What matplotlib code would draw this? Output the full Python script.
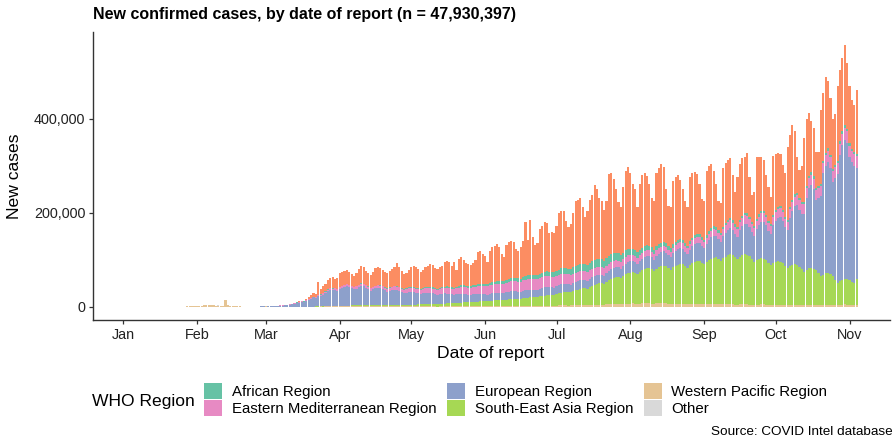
import numpy as np
import pandas as pd
import matplotlib
matplotlib.use("Agg")
import matplotlib.pyplot as plt
import matplotlib.dates as mdates
from matplotlib.patches import Patch
from matplotlib.ticker import FuncFormatter

plt.rcParams["font.family"] = ["Liberation Sans", "DejaVu Sans"]

# Daily new cases by WHO region, thousands.
# First day is Mon 2020-01-20, one line per week (Mon..Sun), last day 2020-11-04.
start_date = "2020-01-20"

western_pacific = [
    0.3, 0.1, 0.2, 0.3, 0.5, 0.7, 0.7,
    0.8, 1.3, 1.5, 1.7, 2.0, 2.1, 2.6,
    3.0, 3.2, 3.9, 3.7, 3.2, 3.4, 2.7,
    3.0, 2.5, 2.0, 15.1, 5.1, 2.6, 2.0,
    2.0, 1.9, 1.8, 0.5, 0.9, 0.7, 0.7,
    0.4, 0.6, 0.5, 0.6, 0.8, 0.9, 1.1,
    0.7, 0.7, 0.6, 0.5, 0.5, 0.4, 0.4,
    0.3, 0.3, 0.2, 0.3, 0.2, 0.3, 0.3,
    0.4, 0.3, 0.4, 0.5, 0.6, 0.6, 0.8,
    0.9, 1.0, 0.9, 1.2, 1.3, 1.3, 1.2,
    1.3, 1.4, 1.6, 1.5, 1.6, 1.7, 1.6,
    1.8, 1.8, 1.9, 2.0, 2.2, 2.1, 2.0,
    2.2, 2.0, 2.1, 2.3, 2.5, 2.3, 2.0,
    1.9, 1.7, 1.8, 1.6, 1.7, 1.5, 1.6,
    1.4, 1.3, 1.3, 1.2, 1.3, 1.2, 1.1,
    1.1, 1.0, 1.1, 1.0, 1.1, 1.0, 1.1,
    1.0, 0.9, 1.0, 1.1, 1.0, 1.2, 1.1,
    1.0, 1.1, 1.2, 1.1, 1.2, 1.1, 1.3,
    1.2, 1.3, 1.4, 1.3, 1.5, 1.6, 1.5,
    1.4, 1.5, 1.6, 1.7, 1.6, 1.8, 1.7,
    1.6, 1.8, 1.9, 2.0, 1.9, 2.1, 2.0,
    1.9, 2.1, 2.2, 2.3, 2.4, 2.2, 2.3,
    2.2, 2.4, 2.6, 2.5, 2.7, 2.8, 2.6,
    2.5, 2.8, 3.0, 3.1, 3.2, 3.3, 3.1,
    3.0, 3.3, 3.6, 3.8, 4.0, 3.9, 3.8,
    3.7, 4.0, 4.3, 4.5, 4.7, 4.9, 4.6,
    4.5, 4.9, 5.2, 5.6, 5.8, 6.0, 5.9,
    5.6, 6.2, 6.5, 6.9, 7.0, 7.2, 7.4,
    7.0, 6.8, 7.3, 7.6, 7.9, 8.1, 7.7,
    7.2, 6.9, 7.4, 7.8, 7.6, 7.9, 7.4,
    6.9, 6.5, 6.8, 7.0, 7.2, 7.1, 6.8,
    6.3, 6.0, 6.4, 6.5, 6.6, 6.4, 6.2,
    5.8, 5.6, 5.9, 6.0, 6.2, 6.0, 5.7,
    5.3, 5.2, 5.5, 5.6, 5.8, 5.6, 5.4,
    5.0, 4.9, 5.2, 5.3, 5.5, 5.4, 5.1,
    4.8, 4.7, 5.0, 5.1, 5.3, 5.2, 5.0,
    4.7, 4.6, 4.9, 5.0, 5.1, 5.0, 4.8,
    4.6, 4.5, 4.8, 4.9, 5.1, 5.0, 4.8,
    4.5, 4.4, 4.7, 4.8, 5.0, 4.9, 4.7,
    4.4, 4.3, 4.6, 4.8, 5.0, 4.9, 4.6,
    4.3, 4.4, 4.7, 5.0, 5.2, 5.1, 4.9,
    4.6, 4.8, 5.1,
]

south_east_asia = [
    0, 0, 0, 0, 0, 0, 0,
    0, 0, 0, 0, 0, 0, 0,
    0, 0, 0, 0, 0, 0, 0,
    0, 0, 0, 0, 0, 0, 0,
    0, 0, 0, 0, 0, 0, 0,
    0, 0, 0, 0, 0, 0, 0,
    0, 0, 0, 0, 0, 0, 0,
    0.0, 0.0, 0.0, 0.0, 0.0, 0.1, 0.1,
    0.0, 0.1, 0.1, 0.1, 0.1, 0.2, 0.2,
    0.2, 0.3, 0.3, 0.4, 0.4, 0.5, 0.5,
    0.5, 0.6, 0.9, 1.0, 1.1, 1.2, 1.1,
    1.3, 1.4, 1.3, 1.5, 1.6, 1.7, 1.8,
    1.8, 1.9, 2.0, 2.1, 2.3, 2.2, 2.4,
    2.5, 2.6, 2.7, 2.6, 2.8, 2.9, 3.0,
    3.1, 3.0, 3.2, 3.4, 3.5, 3.6, 3.8,
    4.4, 4.6, 4.8, 4.9, 5.0, 5.3, 5.4,
    5.6, 5.5, 5.8, 6.1, 6.3, 6.5, 6.8,
    7.2, 7.0, 7.5, 7.8, 8.1, 8.4, 8.7,
    8.9, 8.7, 9.0, 9.2, 9.8, 10.3, 10.5,
    10.8, 10.5, 11.0, 11.6, 12.1, 12.5, 13.0,
    13.2, 12.9, 13.4, 14.1, 14.7, 15.2, 15.6,
    15.4, 14.9, 16.0, 16.7, 17.3, 18.1, 18.9,
    19.2, 18.5, 19.8, 20.6, 21.4, 22.1, 23.0,
    23.4, 22.8, 24.1, 25.5, 26.8, 27.9, 28.6,
    29.0, 28.2, 29.9, 31.5, 33.0, 34.6, 35.8,
    36.2, 35.1, 37.8, 39.9, 42.0, 43.5, 45.3,
    46.0, 44.2, 47.8, 51.0, 53.2, 55.6, 57.8,
    58.4, 56.1, 59.0, 62.3, 64.8, 66.0, 67.5,
    66.2, 63.8, 67.0, 70.1, 72.5, 74.0, 75.6,
    73.9, 70.5, 74.2, 77.0, 78.8, 80.1, 79.5,
    75.0, 72.9, 77.5, 80.2, 82.4, 84.0, 84.5,
    80.1, 76.8, 82.0, 86.3, 89.5, 90.6, 92.1,
    88.4, 85.0, 89.3, 93.0, 96.2, 98.5, 99.8,
    97.0, 93.2, 98.4, 101.5, 104.0, 106.2, 105.1,
    100.8, 97.5, 101.9, 104.8, 106.5, 105.2, 103.0,
    96.3, 90.2, 94.8, 97.0, 98.9, 97.4, 95.1,
    89.0, 83.7, 88.1, 91.0, 92.2, 90.5, 88.3,
    82.4, 78.0, 82.5, 85.1, 86.4, 84.0, 81.2,
    76.0, 70.3, 74.8, 77.4, 78.6, 76.5, 73.2,
    67.1, 61.0, 64.4, 67.5, 68.0, 65.3, 62.0,
    52.0, 47.0, 50.5, 53.0, 55.0, 54.0, 51.5,
    48.0, 46.0, 54.0,
]

european = [
    0, 0, 0, 0, 0, 0, 0,
    0, 0, 0, 0, 0, 0, 0,
    0, 0, 0, 0, 0, 0, 0,
    0, 0, 0, 0, 0, 0, 0,
    0, 0, 0, 0, 0, 0, 0,
    0.1, 0.1, 0.1, 0.2, 0.3, 0.4, 0.5,
    0.6, 0.7, 0.9, 1.2, 1.6, 2.0, 2.5,
    2.8, 3.5, 3.9, 5.0, 6.2, 7.5, 9.0,
    10.5, 9.8, 12.0, 14.3, 17.2, 19.5, 18.8,
    21.5, 22.7, 25.1, 28.4, 32.0, 34.8, 33.5,
    34.0, 32.8, 36.2, 38.5, 40.1, 41.7, 39.4,
    36.5, 34.2, 36.0, 39.1, 40.8, 40.2, 37.5,
    34.1, 31.0, 33.2, 35.0, 36.2, 35.4, 33.8,
    30.8, 28.0, 30.1, 31.5, 32.2, 31.4, 29.8,
    27.0, 24.6, 26.0, 27.3, 27.9, 27.2, 25.6,
    23.8, 21.7, 23.0, 24.1, 24.4, 23.6, 22.1,
    20.9, 19.2, 20.3, 21.0, 21.4, 20.7, 19.5,
    18.4, 17.0, 18.0, 18.5, 18.9, 18.2, 17.3,
    16.3, 15.2, 16.1, 16.6, 17.0, 16.5, 15.6,
    14.8, 14.0, 15.1, 15.6, 16.0, 15.5, 14.8,
    15.1, 14.6, 15.9, 16.4, 16.8, 16.5, 15.7,
    15.0, 14.4, 15.7, 16.3, 16.9, 16.6, 15.8,
    15.2, 14.7, 16.1, 16.8, 17.5, 17.2, 16.4,
    15.9, 15.1, 16.6, 17.4, 18.0, 17.6, 16.9,
    16.4, 15.6, 17.1, 17.8, 18.5, 18.3, 17.5,
    17.0, 16.2, 17.9, 18.6, 19.4, 19.2, 18.4,
    18.0, 17.3, 19.0, 20.1, 21.2, 21.5, 20.6,
    20.0, 19.1, 21.4, 22.6, 23.9, 24.2, 23.0,
    22.1, 21.0, 23.5, 24.8, 26.0, 26.5, 25.2,
    24.3, 23.4, 26.2, 27.9, 29.5, 30.3, 28.8,
    27.6, 26.2, 29.5, 31.4, 33.5, 34.6, 33.0,
    31.5, 29.7, 33.6, 35.8, 38.2, 39.5, 37.4,
    36.0, 34.1, 39.0, 42.5, 45.8, 47.0, 44.5,
    41.8, 40.0, 46.2, 50.8, 54.5, 56.0, 52.6,
    49.2, 47.1, 55.8, 61.9, 65.2, 66.4, 62.0,
    57.5, 55.3, 65.4, 72.0, 77.3, 79.1, 74.2,
    68.0, 66.2, 80.4, 86.9, 92.5, 95.6, 90.1,
    82.3, 80.5, 101.2, 113.4, 122.7, 128.8, 121.0,
    118.0, 124.0, 152.0, 170.0, 176.0, 170.0, 150.0,
    160.0, 170.0, 215.0, 228.0, 236.0, 226.0, 200.0,
    218.0, 232.0, 268.0, 286.0, 296.0, 290.0, 262.0,
    255.0, 250.0, 236.0,
]

eastern_med = [
    0, 0, 0, 0, 0, 0, 0,
    0, 0, 0, 0, 0, 0, 0,
    0, 0, 0, 0, 0, 0, 0,
    0, 0, 0, 0, 0, 0, 0,
    0, 0, 0, 0, 0, 0, 0,
    0.0, 0.1, 0.1, 0.1, 0.2, 0.2, 0.3,
    0.4, 0.6, 0.8, 0.6, 0.6, 1.2, 1.1,
    0.7, 0.9, 1.1, 1.0, 1.3, 1.5, 1.4,
    1.5, 1.3, 1.4, 1.6, 1.5, 1.6, 2.0,
    2.1, 2.2, 2.5, 2.7, 3.0, 3.1, 3.6,
    3.6, 3.8, 3.7, 4.0, 4.3, 4.5, 4.3,
    4.2, 4.3, 4.5, 4.4, 4.6, 4.8, 4.9,
    4.7, 4.9, 5.1, 5.3, 5.5, 5.7, 5.8,
    5.9, 6.1, 6.3, 6.5, 6.8, 7.0, 7.2,
    7.1, 7.4, 7.6, 7.9, 8.2, 8.4, 8.7,
    8.6, 8.9, 9.3, 9.6, 10.0, 10.3, 10.5,
    10.4, 10.7, 11.2, 11.6, 12.0, 12.4, 12.6,
    12.5, 12.9, 13.4, 13.8, 14.1, 14.5, 14.8,
    14.6, 15.0, 15.5, 15.9, 16.4, 16.8, 17.2,
    17.1, 17.5, 18.0, 18.6, 19.1, 19.4, 19.8,
    19.7, 20.1, 20.6, 21.0, 21.5, 21.9, 22.1,
    21.8, 22.0, 22.4, 22.7, 22.9, 23.2, 23.4,
    23.1, 22.8, 23.2, 23.4, 23.5, 23.3, 23.1,
    22.5, 22.2, 22.4, 22.0, 21.8, 21.5, 21.2,
    20.8, 20.3, 20.5, 20.1, 19.7, 19.4, 19.0,
    18.5, 18.0, 18.1, 17.7, 17.4, 17.0, 16.6,
    16.2, 15.8, 16.0, 15.7, 15.4, 15.1, 14.8,
    14.4, 14.0, 14.2, 14.0, 13.8, 13.5, 13.2,
    13.0, 12.7, 13.0, 12.9, 12.7, 12.5, 12.3,
    12.1, 12.0, 12.3, 12.4, 12.3, 12.2, 12.0,
    11.9, 11.8, 12.2, 12.4, 12.5, 12.3, 12.1,
    12.0, 12.1, 12.5, 12.8, 13.0, 12.9, 12.7,
    12.8, 13.0, 13.5, 13.9, 14.3, 14.2, 14.0,
    14.1, 14.5, 15.1, 15.6, 16.0, 16.2, 16.0,
    16.1, 16.4, 16.9, 17.3, 17.6, 17.5, 17.2,
    17.0, 17.1, 17.6, 17.9, 18.1, 18.0, 17.7,
    17.4, 17.6, 18.2, 18.6, 18.9, 18.8, 18.5,
    18.2, 18.6, 19.3, 19.8, 20.2, 20.1, 19.8,
    19.5, 19.9, 20.6, 21.1, 21.5, 21.4, 21.0,
    20.8, 21.3, 22.1, 22.7, 23.2, 23.0, 22.6,
    22.4, 23.0, 23.9, 24.6, 25.2, 25.0, 24.5,
    24.3, 25.0, 26.1,
]

african = [
    0, 0, 0, 0, 0, 0, 0,
    0, 0, 0, 0, 0, 0, 0,
    0, 0, 0, 0, 0, 0, 0,
    0, 0, 0, 0, 0, 0, 0,
    0, 0, 0, 0, 0, 0, 0,
    0, 0, 0, 0, 0, 0, 0,
    0, 0, 0, 0, 0, 0, 0,
    0.0, 0.0, 0.0, 0.0, 0.0, 0.1, 0.1,
    0.1, 0.1, 0.1, 0.1, 0.2, 0.2, 0.3,
    0.3, 0.3, 0.4, 0.4, 0.5, 0.5, 0.5,
    0.4, 0.5, 0.5, 0.6, 0.5, 0.6, 0.6,
    0.5, 0.5, 0.6, 0.6, 0.7, 0.7, 0.6,
    0.7, 0.7, 0.8, 0.8, 0.9, 0.9, 0.9,
    1.0, 1.0, 1.1, 1.2, 1.2, 1.3, 1.3,
    1.3, 1.4, 1.5, 1.6, 1.7, 1.7, 1.8,
    1.8, 1.9, 2.0, 2.1, 2.2, 2.3, 2.3,
    2.3, 2.4, 2.5, 2.6, 2.7, 2.8, 2.8,
    2.9, 3.0, 3.2, 3.3, 3.4, 3.5, 3.5,
    3.6, 3.7, 3.9, 4.0, 4.2, 4.3, 4.3,
    4.4, 4.6, 4.8, 5.0, 5.1, 5.3, 5.4,
    5.5, 5.7, 6.0, 6.2, 6.4, 6.6, 6.7,
    6.8, 7.0, 7.3, 7.6, 7.9, 8.1, 8.2,
    8.3, 8.5, 8.9, 9.3, 9.7, 10.0, 10.1,
    10.2, 10.5, 11.0, 11.5, 12.0, 12.3, 12.4,
    12.5, 12.8, 13.4, 14.0, 14.6, 15.0, 15.1,
    15.1, 15.4, 16.0, 16.5, 17.0, 17.3, 17.2,
    16.9, 16.6, 16.8, 16.7, 16.5, 16.2, 15.8,
    15.3, 14.8, 14.6, 14.3, 13.9, 13.4, 12.9,
    12.2, 11.6, 11.2, 10.8, 10.4, 10.0, 9.6,
    9.2, 8.8, 8.6, 8.4, 8.2, 8.0, 7.8,
    7.5, 7.2, 7.1, 7.0, 6.9, 6.8, 6.6,
    6.3, 6.1, 6.1, 6.0, 6.0, 5.9, 5.8,
    5.6, 5.4, 5.5, 5.5, 5.6, 5.5, 5.4,
    5.2, 5.0, 5.1, 5.2, 5.3, 5.2, 5.0,
    4.8, 4.6, 4.8, 4.9, 5.0, 4.9, 4.8,
    4.6, 4.4, 4.6, 4.7, 4.8, 4.7, 4.6,
    4.5, 4.3, 4.5, 4.6, 4.8, 4.7, 4.6,
    4.4, 4.3, 4.5, 4.7, 4.9, 4.8, 4.7,
    4.5, 4.4, 4.6, 4.8, 5.0, 4.9, 4.8,
    4.6, 4.5, 4.8, 5.0, 5.2, 5.1, 5.0,
    4.8, 4.7, 5.0, 5.2, 5.4, 5.3, 5.2,
    5.0, 4.9, 5.2,
]

americas = [
    0, 0, 0, 0, 0, 0, 0,
    0, 0, 0, 0, 0, 0, 0,
    0, 0, 0, 0, 0, 0, 0,
    0, 0, 0, 0, 0, 0, 0,
    0, 0, 0, 0, 0, 0, 0,
    0, 0, 0, 0, 0, 0, 0,
    0.0, 0.0, 0.0, 0.1, 0.1, 0.1, 0.1,
    0.2, 0.2, 0.3, 0.4, 0.5, 0.7, 0.8,
    1.0, 1.3, 1.9, 3.5, 5.2, 7.8, 6.1,
    27.0, 12.0, 16.0, 15.0, 21.0, 22.0, 24.0,
    20.2, 22.9, 30.1, 29.4, 29.4, 29.3, 27.0,
    25.7, 23.8, 27.7, 32.4, 38.1, 34.5, 29.2,
    28.5, 27.5, 30.8, 36.5, 36.6, 36.5, 34.1,
    31.9, 32.6, 34.0, 36.6, 40.3, 48.9, 43.1,
    36.1, 32.3, 32.4, 36.6, 41.4, 45.9, 45.0,
    40.3, 35.9, 37.8, 42.3, 45.3, 49.5, 47.6,
    41.8, 41.3, 45.2, 45.6, 52.6, 54.4, 53.2,
    46.0, 55.0, 34.7, 57.5, 60.3, 54.3, 48.4,
    47.4, 46.1, 48.1, 53.0, 67.1, 68.5, 62.9,
    59.5, 46.9, 67.5, 75.5, 76.1, 79.5, 73.3,
    56.9, 50.9, 74.2, 78.3, 78.7, 76.7, 61.9,
    57.1, 67.6, 76.4, 115.4, 74.6, 115.8, 79.4,
    64.0, 68.1, 94.4, 99.4, 105.2, 102.6, 82.8,
    85.5, 84.6, 94.9, 120.5, 123.2, 121.4, 99.8,
    88.3, 95.8, 115.5, 137.8, 138.2, 139.8, 121.8,
    101.5, 116.3, 133.9, 140.8, 159.5, 148.1, 129.9,
    123.4, 107.2, 120.2, 172.9, 172.9, 157.6, 135.1,
    110.3, 102.8, 140.3, 169.9, 174.6, 160.7, 138.0,
    129.5, 96.1, 140.0, 153.8, 154.5, 146.9, 131.6,
    105.3, 103.4, 156.3, 161.5, 168.6, 159.5, 114.5,
    86.1, 87.4, 134.9, 138.0, 137.5, 125.2, 107.0,
    88.8, 81.3, 135.4, 137.6, 134.7, 126.7, 107.8,
    81.4, 81.9, 136.8, 139.1, 136.9, 118.8, 92.6,
    61.6, 64.1, 125.7, 127.3, 126.4, 126.8, 96.9,
    69.1, 106.5, 120.4, 121.8, 120.2, 127.6, 84.9,
    57.8, 73.3, 130.6, 121.3, 115.6, 107.6, 83.4,
    71.4, 57.6, 125.9, 118.9, 114.5, 111.4, 95.7,
    92.1, 154.1, 152.7, 159.1, 135.7, 77.3, 59.5,
    77.5, 137.0, 143.3, 133.9, 108.9, 102.3, 76.3,
    73.1, 158.9, 144.1, 162.0, 142.6, 120.7, 105.8,
    108.5, 158.9, 152.9, 156.2, 170.2, 140.6, 121.9,
    103.1, 99.3, 135.6,
]

# cruise ship cases ("Other"), thousands
other_dates = ["2020-02-05", "2020-02-07", "2020-02-10", "2020-02-13",
               "2020-02-16", "2020-02-17", "2020-02-18", "2020-02-20"]
other_cases = [0.01, 0.04, 0.07, 0.04, 0.07, 0.10, 0.09, 0.08]

title_text = "New confirmed cases, by date of report (n = 47,930,397)"
month_ticks = pd.date_range("2020-01-01", "2020-11-01", freq="MS")
y_ticks = [0, 200000, 400000]

colors = {
    "African Region": "#66C2A5",
    "Region of the Americas": "#FC8D62",
    "Eastern Mediterranean Region": "#E78AC3",
    "European Region": "#8DA0CB",
    "South-East Asia Region": "#A6D854",
    "Western Pacific Region": "#E5C494",
    "Other": "#D9D9D9",
}

dates = pd.date_range(start_date, periods=len(western_pacific), freq="D")
for arr in [south_east_asia, european, eastern_med, african, americas]:
    assert len(arr) == len(dates), len(arr)

other = pd.Series(other_cases, index=pd.to_datetime(other_dates)).reindex(dates, fill_value=0.0)

# stacking order, bottom -> top
layers = [
    ("Western Pacific Region", western_pacific),
    ("South-East Asia Region", south_east_asia),
    ("Other", other.values),
    ("European Region", european),
    ("Eastern Mediterranean Region", eastern_med),
    ("African Region", african),
    ("Region of the Americas", americas),
]

fig = plt.figure(figsize=(8.95, 4.44), dpi=100)
ax = fig.add_axes([93 / 895, 1 - 320 / 444, (890 - 93) / 895, (320 - 32) / 444])

bottom = np.zeros(len(dates))
for name, vals in layers:
    v = np.asarray(vals, dtype=float) * 1000
    ax.bar(dates, v, bottom=bottom, width=0.9, color=colors[name], linewidth=0)
    bottom += v

jan1 = mdates.date2num(pd.Timestamp("2020-01-01"))
ax.set_xlim(jan1 - 12.6, jan1 + 322)
ax.set_ylim(-27800, 585000)

ax.set_xticks(month_ticks)
ax.xaxis.set_major_formatter(mdates.DateFormatter("%b"))
ax.set_yticks(y_ticks)
ax.yaxis.set_major_formatter(FuncFormatter(lambda v, p: f"{int(v):,}"))

for side in ["top", "right"]:
    ax.spines[side].set_visible(False)
for side in ["left", "bottom"]:
    ax.spines[side].set_linewidth(1.0)
    ax.spines[side].set_color("#333333")
ax.tick_params(axis="both", length=3, width=0.9, color="#333333",
               labelsize=10.4, labelcolor="#222222", pad=2.5)

fig.text(93 / 895, 1 - 15 / 444, title_text, ha="left", va="center",
         fontsize=11.5, fontweight="bold")
fig.text(15 / 895, 1 - 176 / 444, "New cases", rotation=90, ha="center",
         va="center", fontsize=12.6)
fig.text(491 / 895, 1 - 353 / 444, "Date of report", ha="center",
         va="center", fontsize=12.6)

# legend (Americas is not listed in the original legend)
legend_order = ["African Region", "Eastern Mediterranean Region",
                "European Region", "South-East Asia Region",
                "Western Pacific Region", "Other"]
handles = [Patch(facecolor=colors[n], edgecolor="none", label=n) for n in legend_order]
fig.text(92 / 895, 1 - 401 / 444, "WHO Region", ha="left", va="center", fontsize=12.6)
fig.legend(handles=handles, ncol=3, loc="upper left",
           bbox_to_anchor=(204 / 895, 1 - 383 / 444), frameon=False,
           fontsize=10.8, handlelength=1.2, handleheight=1.25,
           handletextpad=0.65, columnspacing=0.7, labelspacing=0.1,
           borderpad=0, borderaxespad=0)

fig.text(893 / 895, 1 - 432 / 444, "Source: COVID Intel database",
         ha="right", va="center", fontsize=9.7)

fig.savefig("out.png", dpi=100)
